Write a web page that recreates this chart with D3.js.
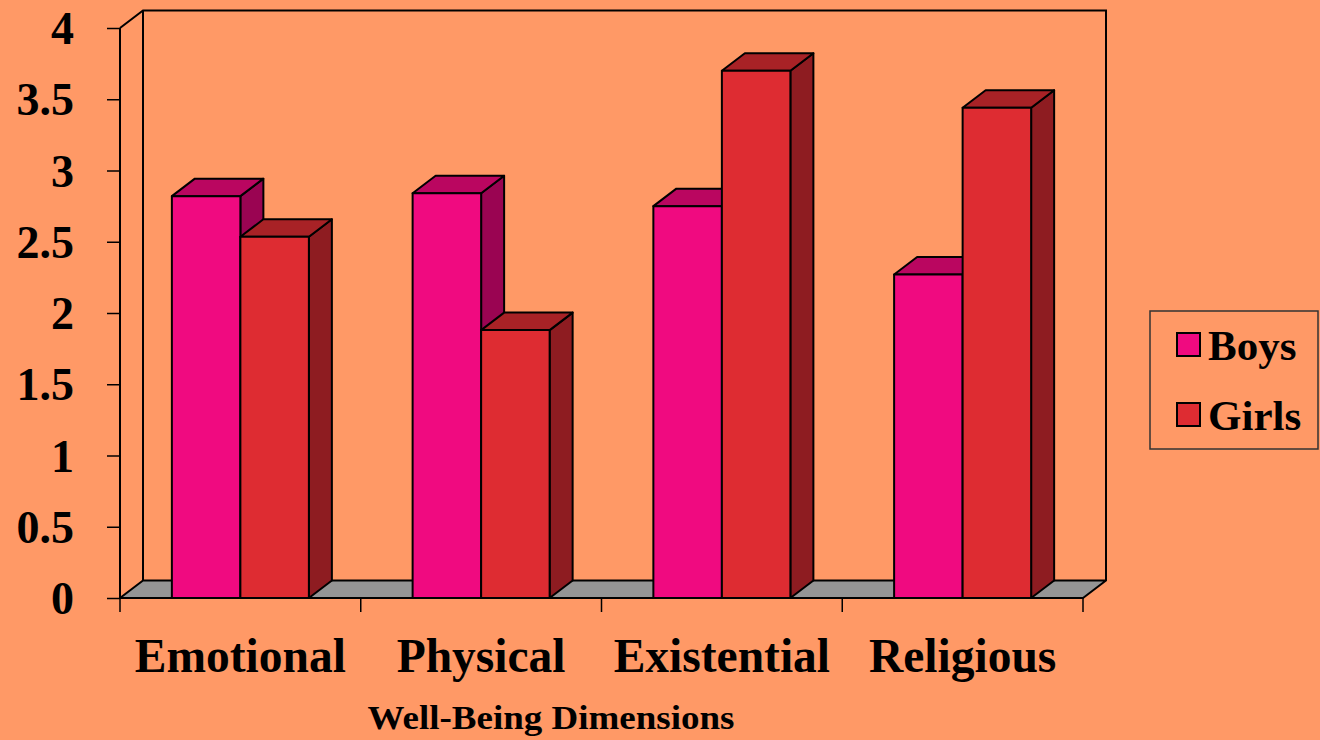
<!DOCTYPE html>
<html>
<head>
<meta charset="utf-8">
<script src="https://cdn.jsdelivr.net/npm/d3@7"></script>
<style>
  html, body { margin: 0; padding: 0; background: #FF9966; }
  svg { display: block; }
</style>
</head>
<body>
<svg id="chart" width="1320" height="740"></svg>
<script>
// ---- data ----
const categories = ["Emotional", "Physical", "Existential", "Religious"];
const seriesNames = ["Boys", "Girls"];
const boys  = [2.82, 2.84, 2.75, 2.27];
const girls = [2.535, 1.88, 3.70, 3.44];
const yTicks = [0, 0.5, 1, 1.5, 2, 2.5, 3, 3.5, 4];
const yTickLabels = ["0", "0.5", "1", "1.5", "2", "2.5", "3", "3.5", "4"];
const xTitle = "Well-Being Dimensions";

// ---- styles ----
const FONT = "'Liberation Serif', 'Times New Roman', serif";
const colors = {
  Boys:  { front: "#F00A80", top: "#BA0660", side: "#9A0452" },
  Girls: { front: "#DE2C32", top: "#A82226", side: "#8E1C21" }
};
const floorColor = "#959595";

const svg = d3.select("#chart");
const x0 = 120, x1 = 1083, yBase = 598, yTop = 28;
const dx = 23, dy = -17.5;

const x = d3.scaleBand().domain(categories).range([x0, x1]).padding(0);
const xs = d3.scaleBand().domain(seriesNames).range([0, x.bandwidth()])
  .paddingInner(0).paddingOuter(0.757);
const y = d3.scaleLinear().domain([0, 4]).range([yBase, yTop]);

const stroke = "#000";

// back wall outline
const wallG = svg.append("g");
wallG.append("path")
  .attr("d", `M${x0},${y(4)} L${x0 + dx},${y(4) + dy} L${x1 + dx},${y(4) + dy} L${x1 + dx},${y(0) + dy}`)
  .attr("fill", "none").attr("stroke", stroke).attr("stroke-width", 2);
wallG.append("line")
  .attr("x1", x0 + dx).attr("x2", x0 + dx)
  .attr("y1", y(4) + dy).attr("y2", y(0) + dy)
  .attr("stroke", stroke).attr("stroke-width", 2);

// floor
svg.append("path")
  .attr("d", `M${x0},${y(0)} L${x1},${y(0)} L${x1 + dx},${y(0) + dy} L${x0 + dx},${y(0) + dy} Z`)
  .attr("fill", floorColor).attr("stroke", stroke).attr("stroke-width", 2)
  .attr("stroke-linejoin", "round");

// y axis
const yAxis = d3.axisLeft(y).tickValues(yTicks)
  .tickFormat((d, i) => yTickLabels[i]).tickSize(13).tickPadding(33);
const yAxisG = svg.append("g").attr("transform", `translate(${x0},0)`).call(yAxis);
yAxisG.select(".domain").attr("stroke", stroke).attr("stroke-width", 2)
  .attr("d", `M0,${y(4)} V${y(0)}`);
yAxisG.selectAll(".tick line").attr("stroke", stroke).attr("stroke-width", 1.5);
yAxisG.selectAll(".tick text")
  .attr("font-family", FONT).attr("font-weight", "bold")
  .attr("font-size", 46).attr("fill", "#000").attr("dy", "0.34em");

// x axis
const xAxis = d3.axisBottom(x).tickSize(0).tickPadding(0).tickFormat("");
const xAxisG = svg.append("g").attr("transform", `translate(0,${yBase})`).call(xAxis);
xAxisG.select(".domain").attr("stroke", stroke).attr("stroke-width", 2)
  .attr("d", `M${x0},0 H${x1}`);
xAxisG.selectAll(".tick").remove();
const boundaries = categories.map(c => x(c)).concat([x1]);
xAxisG.selectAll(".bnd").data(boundaries).enter().append("line")
  .attr("x1", d => d).attr("x2", d => d).attr("y1", 0).attr("y2", 14)
  .attr("stroke", stroke).attr("stroke-width", 1.5);
xAxisG.selectAll(".cat").data(categories).enter().append("text")
  .attr("x", d => x(d) + x.bandwidth() / 2).attr("y", 74)
  .attr("text-anchor", "middle")
  .attr("font-family", FONT).attr("font-weight", "bold").attr("font-size", 47.5)
  .attr("fill", "#000").text(d => d);

// bars
const rows = [];
categories.forEach((c, i) => {
  rows.push({ cat: c, series: "Boys", value: boys[i] });
  rows.push({ cat: c, series: "Girls", value: girls[i] });
});
const barG = svg.append("g");
rows.forEach(r => {
  const bx = x(r.cat) + xs(r.series);
  const bw = xs.bandwidth();
  const by = y(r.value);
  const b0 = y(0);
  const col = colors[r.series];
  const g = barG.append("g")
    .attr("stroke", stroke).attr("stroke-width", 2).attr("stroke-linejoin", "round");
  g.append("path")
    .attr("d", `M${bx + bw},${b0} L${bx + bw + dx},${b0 + dy} L${bx + bw + dx},${by + dy} L${bx + bw},${by} Z`)
    .attr("fill", col.side);
  g.append("path")
    .attr("d", `M${bx},${by} L${bx + dx},${by + dy} L${bx + bw + dx},${by + dy} L${bx + bw},${by} Z`)
    .attr("fill", col.top);
  g.append("rect")
    .attr("x", bx).attr("y", by).attr("width", bw).attr("height", b0 - by)
    .attr("fill", col.front);
});

// x title
svg.append("text")
  .attr("x", 551).attr("y", 729).attr("text-anchor", "middle")
  .attr("font-family", FONT).attr("font-weight", "bold").attr("font-size", 33)
  .attr("textLength", 367).attr("lengthAdjust", "spacingAndGlyphs")
  .attr("fill", "#000").text(xTitle);

// legend
const lg = svg.append("g");
lg.append("rect").attr("x", 1150).attr("y", 311).attr("width", 168).attr("height", 138)
  .attr("fill", "none").attr("stroke", "#333").attr("stroke-width", 1.5);
seriesNames.forEach((s, i) => {
  const yy = 333 + i * 70;
  lg.append("rect").attr("x", 1177).attr("y", yy).attr("width", 23).attr("height", 23)
    .attr("fill", colors[s].front).attr("stroke", "#000").attr("stroke-width", 2);
  lg.append("text").attr("x", 1208).attr("y", yy + 27)
    .attr("font-family", FONT).attr("font-weight", "bold").attr("font-size", 43)
    .attr("fill", "#000").text(s);
});
</script>
</body>
</html>
